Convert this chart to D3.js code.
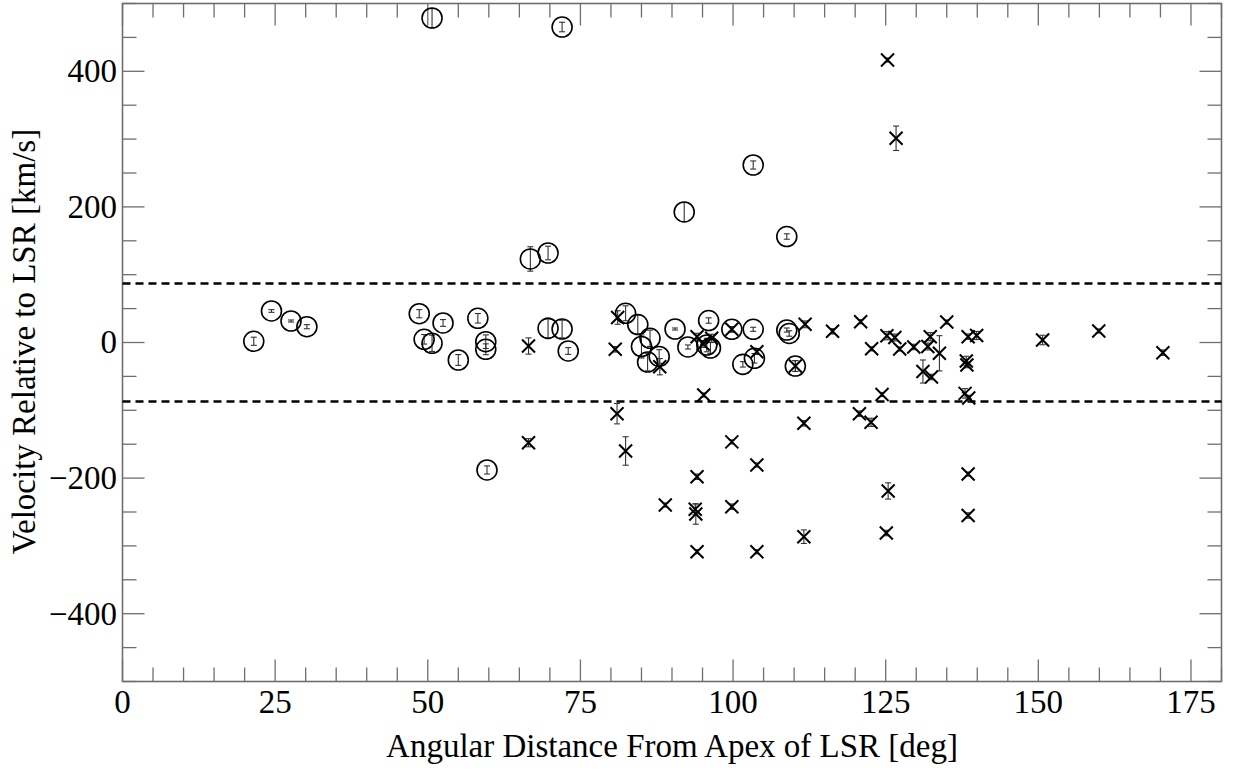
<!DOCTYPE html>
<html>
<head>
<meta charset="utf-8">
<script src="https://cdn.jsdelivr.net/npm/d3@7"></script>
<style>
  html, body { margin: 0; padding: 0; background: #fff; }
  svg { display: block; }
</style>
</head>
<body>
<svg id="chart" width="1235" height="771"></svg>
<script>
// Circle-marked objects: [angle deg, velocity km/s, error km/s]
const circleX = [50.7, 72.0, 103.3, 92.0, 108.8, 66.8, 69.7, 21.5, 24.4, 27.6, 30.2, 48.6, 49.4, 50.7, 52.5, 55.0, 58.2, 59.5, 59.5, 59.7, 69.7, 72.0, 73.0, 82.4, 84.4, 86.4, 85.0, 86.0, 87.9, 90.5, 92.6, 96.0, 95.7, 96.3, 99.8, 103.3, 101.6, 103.5, 108.8, 109.2, 110.2];
const circleY = [478.6, 465.3, 261.8, 192.5, 156.3, 123.2, 132.0, 1.8, 46.5, 31.7, 23.3, 42.5, 4.7, -1.2, 28.8, -25.8, 35.7, 1.2, -10.0, -188.0, 20.9, 19.9, -12.5, 43.1, 26.5, 6.2, -5.9, -28.8, -20.6, 19.9, -6.6, 32.4, -3.7, -8.1, 19.5, 19.5, -32.2, -23.3, 18.4, 13.3, -34.7];
const circleErr = [14, 7, 6, 14, 4, 18, 10, 6, 2, 1.5, 3, 6, 7, 12, 5, 8, 7, 10, 8, 6, 15, 13, 5, 11, 14, 12, 17, 13, 10, 1.5, 3, 4, 10, 8, 4, 3, 4, 7, 3, 4, 8];

// Cross-marked objects
const crossX = [66.5, 66.5, 80.7, 81.1, 81.0, 82.4, 88.0, 94.1, 95.1, 96.5, 95.2, 94.1, 99.8, 103.9, 111.6, 111.8, 116.3, 120.9, 122.7, 120.7, 122.6, 88.9, 93.8, 93.9, 99.8, 111.6, 94.1, 103.9, 125.3, 126.7, 125.2, 126.5, 127.3, 129.6, 131.9, 132.3, 133.8, 131.1, 132.5, 135.0, 138.5, 139.9, 138.2, 138.3, 138.0, 138.6, 150.7, 159.9, 170.4, 125.4, 138.5, 124.4, 125.1, 138.5, 110.2, 99.8, 103.9];
const crossY = [-5.2, -147.8, -10.0, 36.9, -105.0, -160.0, -35.7, 8.6, -2.2, 6.2, -77.4, -198.0, -146.6, -180.7, -119.2, 26.8, 16.5, 30.7, -9.3, -105.0, -117.7, -239.7, -246.0, -253.0, -242.2, -286.4, -308.6, -308.6, 416.7, 301.2, 10.0, 7.4, -9.6, -6.6, -5.9, 8.6, -15.9, -42.8, -50.9, 30.2, 8.6, 10.3, -27.3, -33.2, -75.0, -81.9, 3.7, 17.0, -15.0, -219.0, -194.0, -76.7, -281.0, -255.2, -34.7, 19.5, -13.6];
const crossErr = [12, 6, 4, 10, 15, 21, 12, 5, 5, 6, 3, 4, 3, 3, 4, 5, 4, 3, 3, 4, 6, 3, 8, 15, 4, 10, 3, 3, 3, 18, 6, 5, 3, 4, 5, 6, 26, 17, 4, 3, 4, 6, 7, 4, 7, 4, 7, 3, 4, 12, 3, 3, 4, 4, 8, 4, 4];

const limitLines = [87, -87];
const xTicks = [0, 25, 50, 75, 100, 125, 150, 175];
const yTicks = [-400, -200, 0, 200, 400];
const xTitle = "Angular Distance From Apex of LSR [deg]";
const yTitle = "Velocity Relative to LSR [km/s]";

const FONT = "'Liberation Serif', 'Times New Roman', Times, serif";
const FS = 33;
const svg = d3.select("#chart");
const L = 122.5, R = 1221.5, T = 3.5, B = 681.5;
const x = d3.scaleLinear().domain([0, 180]).range([L, R]);
const y = d3.scaleLinear().domain([-500, 500]).range([B, T]);

const frameColor = "#6e6e6e";
const majorLen = 22, minorLen = 14;
const xMinor = d3.range(0, 181, 5).filter(v => v % 25 !== 0);
const yMinor = d3.range(-500, 501, 50).filter(v => v % 200 !== 0);

const g = svg.append("g");

// Ticks (inward on all four sides)
const tickG = g.append("g").attr("stroke", frameColor).attr("stroke-width", 1.3);
xTicks.forEach(v => {
  tickG.append("line").attr("x1", x(v)).attr("x2", x(v)).attr("y1", B).attr("y2", B - majorLen);
  tickG.append("line").attr("x1", x(v)).attr("x2", x(v)).attr("y1", T).attr("y2", T + majorLen);
});
xMinor.forEach(v => {
  tickG.append("line").attr("x1", x(v)).attr("x2", x(v)).attr("y1", B).attr("y2", B - minorLen);
  tickG.append("line").attr("x1", x(v)).attr("x2", x(v)).attr("y1", T).attr("y2", T + minorLen);
});
yTicks.forEach(v => {
  tickG.append("line").attr("y1", y(v)).attr("y2", y(v)).attr("x1", L).attr("x2", L + majorLen);
  tickG.append("line").attr("y1", y(v)).attr("y2", y(v)).attr("x1", R).attr("x2", R - majorLen);
});
yMinor.forEach(v => {
  tickG.append("line").attr("y1", y(v)).attr("y2", y(v)).attr("x1", L).attr("x2", L + minorLen);
  tickG.append("line").attr("y1", y(v)).attr("y2", y(v)).attr("x1", R).attr("x2", R - minorLen);
});

// Frame
g.append("rect").attr("x", L).attr("y", T).attr("width", R - L).attr("height", B - T)
  .attr("fill", "none").attr("stroke", frameColor).attr("stroke-width", 1.6);

// Tick labels
const fmt = v => (v < 0 ? "\u2212" + Math.abs(v) : String(v));
g.append("g").selectAll("text").data(xTicks).join("text")
  .attr("x", d => x(d)).attr("y", 713).attr("text-anchor", "middle")
  .attr("font-family", FONT).attr("font-size", FS).attr("fill", "#000").text(fmt);
g.append("g").selectAll("text").data(yTicks).join("text")
  .attr("x", 117).attr("y", d => y(d)).attr("dy", "0.33em").attr("text-anchor", "end")
  .attr("font-family", FONT).attr("font-size", FS).attr("fill", "#000").text(fmt);

// Titles
g.append("text").attr("x", (L + R) / 2).attr("y", 757).attr("text-anchor", "middle")
  .attr("font-family", FONT).attr("font-size", FS).attr("fill", "#000").text(xTitle);
g.append("text").attr("transform", `translate(35, ${(T + B) / 2 - 1}) rotate(-90)`)
  .attr("text-anchor", "middle").attr("font-family", FONT).attr("font-size", FS)
  .attr("fill", "#000").text(yTitle);

// Dashed limit lines
g.append("g").selectAll("line").data(limitLines).join("line")
  .attr("x1", L).attr("x2", R).attr("y1", d => y(d)).attr("y2", d => y(d))
  .attr("stroke", "#000").attr("stroke-width", 2.6).attr("stroke-dasharray", "8,5");

const plot = g.append("g");
const circles = circleX.map((v, i) => ({ x: v, y: circleY[i], e: circleErr[i] }));
const crosses = crossX.map((v, i) => ({ x: v, y: crossY[i], e: crossErr[i] }));

function errorBars(data) {
  const eg = plot.append("g").attr("stroke", "#333").attr("stroke-width", 1.1);
  data.forEach(d => {
    const y1 = y(d.y + d.e), y2 = y(d.y - d.e), cx = x(d.x);
    eg.append("line").attr("x1", cx).attr("x2", cx).attr("y1", y1).attr("y2", y2);
    eg.append("line").attr("x1", cx - 3).attr("x2", cx + 3).attr("y1", y1).attr("y2", y1);
    eg.append("line").attr("x1", cx - 3).attr("x2", cx + 3).attr("y1", y2).attr("y2", y2);
  });
}
errorBars(circles);
errorBars(crosses);

plot.append("g").selectAll("circle").data(circles).join("circle")
  .attr("cx", d => x(d.x)).attr("cy", d => y(d.y)).attr("r", 10)
  .attr("fill", "none").attr("stroke", "#000").attr("stroke-width", 1.6);

const s = 6.5;
plot.append("g").selectAll("path").data(crosses).join("path")
  .attr("d", d => {
    const cx = x(d.x), cy = y(d.y);
    return `M${cx - s},${cy - s}L${cx + s},${cy + s}M${cx - s},${cy + s}L${cx + s},${cy - s}`;
  })
  .attr("fill", "none").attr("stroke", "#000").attr("stroke-width", 2);
</script>
</body>
</html>
